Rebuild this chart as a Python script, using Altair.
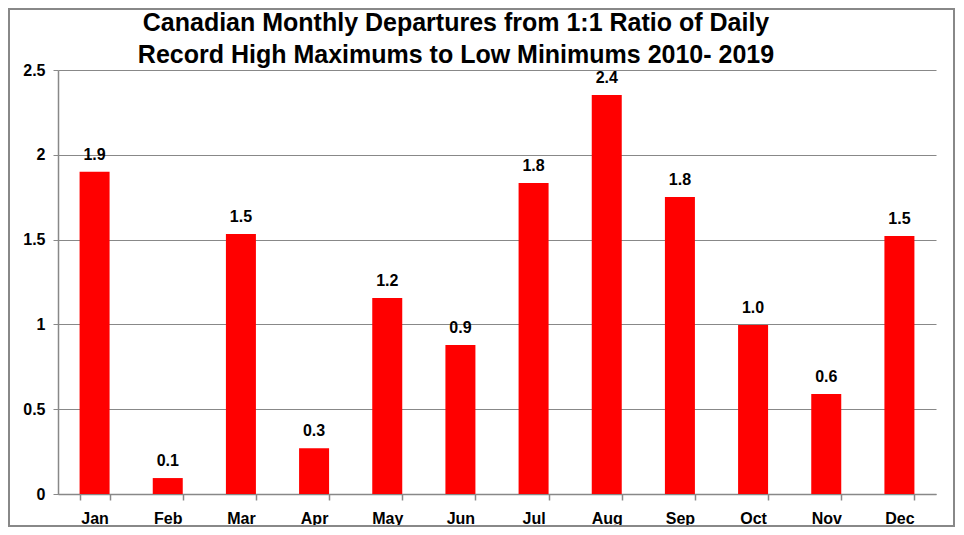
import altair as alt
import pandas as pd

months = ["Jan", "Feb", "Mar", "Apr", "May", "Jun", "Jul", "Aug", "Sep", "Oct", "Nov", "Dec"]
values = [1.90, 0.094, 1.533, 0.27, 1.156, 0.879, 1.834, 2.353, 1.751, 0.996, 0.59, 1.521]
y_ticks = [0, 0.5, 1, 1.5, 2, 2.5]
title_lines = ["Canadian Monthly Departures from 1:1 Ratio of Daily",
               "Record High Maximums to Low Minimums 2010- 2019"]

df = pd.DataFrame({"month": months, "value": values})

W, H = 878, 424
FONT = "Liberation Sans"

x = alt.X("month:N", sort=months, title=None,
          scale=alt.Scale(paddingInner=0.59, paddingOuter=0.295),
          axis=alt.Axis(labelFont=FONT, labelFontSize=16, labelFontWeight="bold",
                        labelColor="black", labelAngle=0, labelPadding=10,
                        domainColor="#888888", domainWidth=1.5, tickColor="#888888",
                        tickWidth=1.5, tickSize=6, tickBand="extent", grid=False))
y = alt.Y("value:Q", title=None,
          scale=alt.Scale(domain=[0, 2.5], nice=False),
          axis=alt.Axis(values=y_ticks, labelFont=FONT, labelFontSize=16,
                        labelFontWeight="bold", labelColor="black", labelPadding=8,
                        domainColor="#888888", domainWidth=1.5, tickColor="#888888",
                        tickSize=5, gridColor="#888888", gridWidth=1.2,
                        labelExpr="datum.value == 0 ? '0' : format(datum.value, '.1~f')"))

bars = alt.Chart(df).mark_bar(color="#FF0000").encode(x=x, y=y)
labels = alt.Chart(df).mark_text(font=FONT, fontSize=16, fontWeight="bold", color="black",
                                 baseline="bottom", dy=-9).encode(
    x=alt.X("month:N", sort=months), y="value:Q", text=alt.Text("value:Q", format=".1f"))

border = alt.Chart(df).mark_rect(filled=False, stroke="#888888", strokeWidth=2, clip=False).encode(
    x=alt.value(-49), x2=alt.value(W + 18), y=alt.value(-61), y2=alt.value(H + 32))

chart = alt.layer(bars, labels, border).properties(
    width=W, height=H,
    title=alt.TitleParams(title_lines, font=FONT, fontSize=25, fontWeight="bold",
                          color="black", lineHeight=32, anchor="middle", dx=-41,
                          offset=0, dy=60),
    autosize=alt.AutoSizeParams(type="none"),
    padding={"left": 50, "top": 62, "right": 20, "bottom": 33},
).configure_view(stroke=None)

chart.save("out.html", embed_options={"renderer": "svg", "actions": False})
